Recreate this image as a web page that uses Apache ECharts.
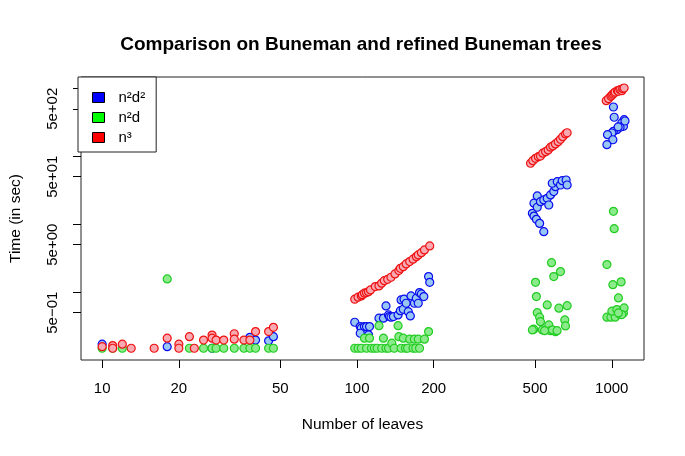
<!DOCTYPE html>
<html>
<head>
<meta charset="utf-8">
<script src="https://cdn.jsdelivr.net/npm/echarts@6/dist/echarts.min.js"></script>
<style>
  html, body { margin: 0; padding: 0; background: #fff; }
  #chart { width: 685px; height: 456px; }
</style>
</head>
<body>
<div id="chart"></div>
<script>
// tick positions + labels (R style log axes)
var xTickValues = [10, 20, 50, 100, 200, 500, 1000];
var xTickLabels = ['10', '20', '50', '100', '200', '500', '1000'];
var yTickValues = [0.5, 1, 5, 10, 50, 100, 500, 1000];
var yLabelValues = [0.5, 5, 50, 500];
var yTickLabels = ['5e\u221201', '5e+00', '5e+01', '5e+02'];

var seriesNames = ['n2d2', 'n2d', 'n3'];
var legendLabels = ['n\u00b2d\u00b2', 'n\u00b2d', 'n\u00b3'];

// [number of leaves, time in sec]
var n2d2 = [
  [10, 0.172], [18, 0.158], [27, 0.150], [38, 0.217], [40, 0.198], [45, 0.193], [47, 0.222],
  [98, 0.362], [103, 0.312], [104, 0.296], [107, 0.312], [109, 0.312], [112, 0.312], [103, 0.249],
  [111, 0.236], [122, 0.415], [127, 0.415], [130, 0.629], [133, 0.464], [134, 0.438], [136, 0.429],
  [139, 0.438], [145, 0.464], [148, 0.536], [149, 0.770], [153, 0.789], [152, 0.562], [156, 0.689],
  [159, 0.518], [162, 0.448], [163, 0.882], [168, 0.689], [171, 0.816], [174, 0.689], [176, 0.987],
  [179, 0.944], [183, 0.862], [191, 1.70], [193, 1.40],
  [488, 14.5], [495, 13.2], [506, 11.8], [521, 10.3], [541, 7.78], [495, 20.4], [510, 26.1],
  [510, 17.8], [525, 21.5], [541, 22.8], [558, 24.1], [566, 19.2], [575, 27.0], [592, 30.2],
  [601, 35.7], [584, 40.1], [611, 42.3], [629, 37.8], [639, 43.8], [662, 44.8], [668, 37.8],
  [1015, 531], [1022, 375], [1118, 345], [1095, 309], [1111, 276], [1078, 267], [1047, 246],
  [1015, 233], [1001, 220], [962, 208], [1010, 175], [957, 148], [1059, 270], [1127, 330]
];
var n2d = [
  [10, 0.150], [11, 0.150], [12, 0.150], [18, 1.57], [22, 0.150], [25, 0.150], [27, 0.150],
  [28, 0.150], [30, 0.150], [33, 0.150], [36, 0.150], [38, 0.150], [40, 0.150], [45, 0.150], [47, 0.150],
  [98, 0.150], [101, 0.150], [104, 0.150], [107, 0.211], [109, 0.150], [112, 0.211], [114, 0.150],
  [117, 0.150], [120, 0.150], [122, 0.322], [125, 0.150], [127, 0.211], [130, 0.150], [133, 0.150],
  [137, 0.178], [140, 0.150], [145, 0.322], [146, 0.222], [149, 0.150], [152, 0.211], [155, 0.150],
  [158, 0.150], [161, 0.204], [166, 0.150], [168, 0.204], [170, 0.150], [174, 0.204], [176, 0.150],
  [184, 0.204], [191, 0.264],
  [580, 2.72], [629, 2.01], [592, 1.70], [502, 1.40], [506, 0.862], [558, 0.651], [620, 0.582],
  [668, 0.635], [510, 0.501], [521, 0.429], [525, 0.369], [494, 0.286], [534, 0.279], [566, 0.330],
  [575, 0.272], [601, 0.263], [654, 0.391], [658, 0.319], [488, 0.279], [545, 0.272], [585, 0.279],
  [610, 0.272],
  [1015, 15.5], [1022, 8.62], [957, 2.55], [1010, 1.29], [1088, 1.42], [1062, 0.824], [957, 0.429],
  [992, 0.429], [1031, 0.429], [1078, 0.469], [1111, 0.496], [1001, 0.526], [1047, 0.555],
  [1118, 0.587], [1095, 0.469], [1062, 0.496]
];
var n3 = [
  [10, 0.158], [11, 0.164], [11, 0.150], [12, 0.172], [13, 0.150], [16, 0.150], [18, 0.211],
  [20, 0.172], [20, 0.150], [22, 0.222], [23, 0.150], [25, 0.198], [27, 0.234], [27, 0.211],
  [28, 0.198], [30, 0.198], [33, 0.245], [33, 0.204], [36, 0.198], [38, 0.198], [40, 0.264],
  [45, 0.264], [47, 0.305],
  [98, 0.789], [101, 0.845], [104, 0.882], [105, 0.92], [107, 0.967], [109, 0.987], [111, 1.02],
  [113, 1.08], [118, 1.21], [122, 1.24], [125, 1.36], [128, 1.48], [132, 1.55], [136, 1.66],
  [141, 1.86], [146, 2.08], [148, 2.25], [152, 2.38], [156, 2.61], [161, 2.82], [166, 3.06],
  [171, 3.34], [174, 3.54], [179, 3.82], [184, 4.19], [193, 4.80],
  [480, 78.9], [490, 86.1], [502, 93.4], [515, 98.6], [525, 101], [536, 111], [550, 117],
  [563, 124], [575, 136], [587, 142], [601, 152], [616, 164], [629, 178], [642, 194], [658, 213], [668, 222],
  [951, 657], [971, 703], [992, 763], [1001, 789], [1010, 824], [1022, 853], [1031, 882],
  [1053, 922], [1062, 903], [1078, 954], [1095, 922], [1105, 987], [1118, 1010]
];

var font = 'Liberation Sans, Arial, sans-serif';

function pick(vals, labels, v) {
  for (var i = 0; i < vals.length; i++) {
    if (Math.abs(vals[i] - v) / vals[i] < 1e-6) return labels[i];
  }
  return '';
}

function scatter(name, data, fill, stroke) {
  return {
    name: name,
    type: 'scatter',
    data: data,
    symbol: 'circle',
    symbolSize: 8,
    itemStyle: { color: fill, borderColor: stroke, borderWidth: 1.2, opacity: 1 },
    emphasis: { disabled: true }
  };
}

var chart = echarts.init(document.getElementById('chart'));

var option = {
  backgroundColor: '#fff',
  animation: false,
  title: {
    text: 'Comparison on Buneman and refined Buneman trees',
    left: 356,
    textAlign: 'center',
    top: 30,
    textStyle: { fontFamily: font, fontSize: 19, fontWeight: 'bold', color: '#000' }
  },
  grid: {
    show: true,
    left: 78, top: 77, right: 41, bottom: 96,
    borderColor: '#222', borderWidth: 1,
    backgroundColor: 'transparent'
  },
  legend: {
    orient: 'vertical',
    left: 78, top: 77,
    padding: [13, 11, 7, 14],
    itemWidth: 12, itemHeight: 10, itemGap: 5,
    borderColor: '#222', borderWidth: 1,
    backgroundColor: '#fff',
    selectedMode: false,
    data: [
      { name: 'n2d2', icon: 'rect', itemStyle: { color: '#0000ff', borderColor: '#000', borderWidth: 1 } },
      { name: 'n2d', icon: 'rect', itemStyle: { color: '#00ff00', borderColor: '#000', borderWidth: 1 } },
      { name: 'n3', icon: 'rect', itemStyle: { color: '#ff0000', borderColor: '#000', borderWidth: 1 } }
    ],
    formatter: function (name) { return legendLabels[seriesNames.indexOf(name)]; },
    textStyle: { fontFamily: font, fontSize: 15, color: '#000', padding: [0, 0, 0, 9] }
  },
  xAxis: {
    type: 'log',
    logBase: 10,
    min: 8.26,
    max: 1338,
    name: 'Number of leaves',
    nameLocation: 'middle',
    nameGap: 57,
    nameTextStyle: { fontFamily: font, fontSize: 15.5, color: '#000' },
    axisLine: { show: false },
    splitLine: { show: false },
    minorTick: { show: false },
    axisTick: { show: true, inside: false, length: 8, lineStyle: { color: '#000' }, customValues: xTickValues },
    axisLabel: {
      customValues: xTickValues,
      formatter: function (v) { return pick(xTickValues, xTickLabels, v); },
      margin: 21, fontFamily: font, fontSize: 15, color: '#000'
    }
  },
  yAxis: {
    type: 'log',
    logBase: 10,
    min: 0.1007,
    max: 1466,
    name: 'Time (in sec)',
    nameLocation: 'middle',
    nameGap: 57,
    nameTextStyle: { fontFamily: font, fontSize: 15.5, color: '#000' },
    axisLine: { show: false },
    splitLine: { show: false },
    minorTick: { show: false },
    axisTick: { show: true, inside: false, length: 8, lineStyle: { color: '#000' }, customValues: yTickValues },
    axisLabel: {
      customValues: yLabelValues,
      rotate: 90,
      formatter: function (v) { return pick(yLabelValues, yTickLabels, v); },
      margin: 21, fontFamily: font, fontSize: 15, color: '#000'
    }
  },
  series: [
    scatter('n2d2', n2d2, '#97c6f3', '#0a0aee'),
    scatter('n2d', n2d, '#8beb8b', '#22cc22'),
    scatter('n3', n3, '#f8a9b1', '#ee1111')
  ]
};

chart.setOption(option);
</script>
</body>
</html>
